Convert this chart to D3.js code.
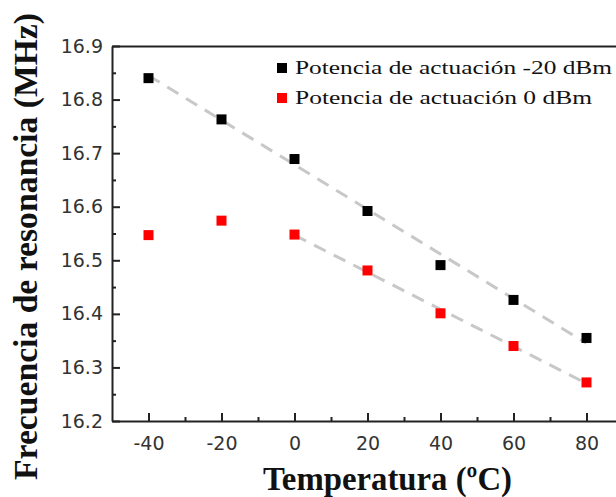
<!DOCTYPE html>
<html>
<head>
<meta charset="utf-8">
<script src="https://cdn.jsdelivr.net/npm/d3@7"></script>
<style>
  html, body { margin: 0; padding: 0; background: #fff; }
  svg { display: block; }
</style>
</head>
<body>
<svg id="chart" width="616" height="497"></svg>
<script>
// Temperatures (ºC) at which resonance was measured
const temperatures = [-40, -20, 0, 20, 40, 60, 80];
// Resonance frequency (MHz) per drive power
const freqMinus20dBm = [16.840, 16.763, 16.689, 16.592, 16.491, 16.426, 16.355];
const freq0dBm       = [16.547, 16.574, 16.548, 16.481, 16.401, 16.340, 16.272];
// Linear trend lines: [temperature, frequency] endpoints
const trendMinus20dBm = [[-40, 16.845], [80, 16.345]];
const trend0dBm       = [[0, 16.547], [80, 16.270]];
// Axis ticks
const xMajorTicks = [-40, -20, 0, 20, 40, 60, 80];
const xMinorTicks = [-30, -10, 10, 30, 50, 70, 90];
const yMajorTicks = [16.2, 16.3, 16.4, 16.5, 16.6, 16.7, 16.8, 16.9];
const yMinorTicks = [16.25, 16.35, 16.45, 16.55, 16.65, 16.75, 16.85];
const legendLabels = ["Potencia de actuación -20 dBm", "Potencia de actuación 0 dBm"];
const seriesColors = ["#000000", "#ff0000"];

const svg = d3.select("#chart");
const x = d3.scaleLinear().domain([-50, 90]).range([112, 623]);
const y = d3.scaleLinear().domain([16.2, 16.9]).range([421, 46]);

const axisColor = "#222";
const tickFont = "'DejaVu Sans', Verdana, sans-serif";
const serif = "'Liberation Serif', 'Times New Roman', serif";

function styleAxis(g) {
  g.selectAll(".domain").attr("stroke", axisColor).attr("stroke-width", 2);
  g.selectAll(".tick line").attr("stroke", axisColor).attr("stroke-width", 2);
  g.selectAll(".tick text")
    .attr("fill", "#333")
    .style("font-family", tickFont)
    .style("font-size", "19px");
}

// Bottom axis: major ticks with labels, pointing inwards (plain hyphen for negatives)
svg.append("g")
  .attr("transform", `translate(0,${y.range()[0]})`)
  .call(d3.axisBottom(x).tickValues(xMajorTicks).tickSizeInner(-8).tickSizeOuter(0).tickPadding(16).tickFormat(d => String(d)))
  .call(styleAxis);
svg.append("g")
  .attr("transform", `translate(0,${y.range()[0]})`)
  .call(d3.axisBottom(x).tickValues(xMinorTicks).tickSizeInner(-4).tickSizeOuter(0).tickFormat(""))
  .call(styleAxis)
  .call(g => g.select(".domain").remove());

// Left axis
svg.append("g")
  .attr("transform", `translate(${x.range()[0]},0)`)
  .call(d3.axisLeft(y).tickValues(yMajorTicks).tickSizeInner(-8).tickSizeOuter(0).tickPadding(9).tickFormat(d => d.toFixed(1)))
  .call(styleAxis);
svg.append("g")
  .attr("transform", `translate(${x.range()[0]},0)`)
  .call(d3.axisLeft(y).tickValues(yMinorTicks).tickSizeInner(-4).tickSizeOuter(0).tickFormat(""))
  .call(styleAxis)
  .call(g => g.select(".domain").remove());

// Top frame line
svg.append("g")
  .attr("transform", `translate(0,${y.range()[1]})`)
  .call(d3.axisTop(x).tickValues([]).tickSizeOuter(0))
  .call(styleAxis);

// Trend lines
const line = d3.line().x(d => x(d[0])).y(d => y(d[1]));
[trendMinus20dBm, trend0dBm].forEach(t => {
  svg.append("path")
    .attr("d", line(t))
    .attr("fill", "none")
    .attr("stroke", "#c8c8c8")
    .attr("stroke-width", 3)
    .attr("stroke-dasharray", "13,9");
});

// Data markers
const marker = 10;
[freqMinus20dBm, freq0dBm].forEach((vals, i) => {
  svg.append("g").selectAll("rect")
    .data(temperatures.map((t, j) => [t, vals[j]]))
    .join("rect")
    .attr("x", d => x(d[0]) - marker / 2)
    .attr("y", d => y(d[1]) - marker / 2)
    .attr("width", marker)
    .attr("height", marker)
    .attr("fill", seriesColors[i]);
});

// Legend
const legendTextLen = [317, 297];
legendLabels.forEach((label, i) => {
  const cy = 68 + i * 30;
  svg.append("rect")
    .attr("x", 282 - marker / 2).attr("y", cy - marker / 2)
    .attr("width", marker).attr("height", marker)
    .attr("fill", seriesColors[i]);
  svg.append("text")
    .attr("x", 295).attr("y", cy + 6)
    .attr("textLength", legendTextLen[i])
    .attr("lengthAdjust", "spacingAndGlyphs")
    .style("font-family", serif)
    .style("font-size", "19px")
    .attr("fill", "#111")
    .text(label);
});

// Axis titles
svg.append("text")
  .attr("x", 387.5).attr("y", 490)
  .attr("text-anchor", "middle")
  .attr("textLength", 249)
  .attr("lengthAdjust", "spacingAndGlyphs")
  .style("font-family", serif)
  .style("font-weight", "bold")
  .style("font-size", "33px")
  .attr("fill", "#111")
  .text("Temperatura (ºC)");

svg.append("text")
  .attr("transform", "translate(37,246.5) rotate(-90)")
  .attr("text-anchor", "middle")
  .attr("textLength", 467)
  .attr("lengthAdjust", "spacingAndGlyphs")
  .style("font-family", serif)
  .style("font-weight", "bold")
  .style("font-size", "33px")
  .attr("fill", "#111")
  .text("Frecuencia de resonancia (MHz)");
</script>
</body>
</html>
